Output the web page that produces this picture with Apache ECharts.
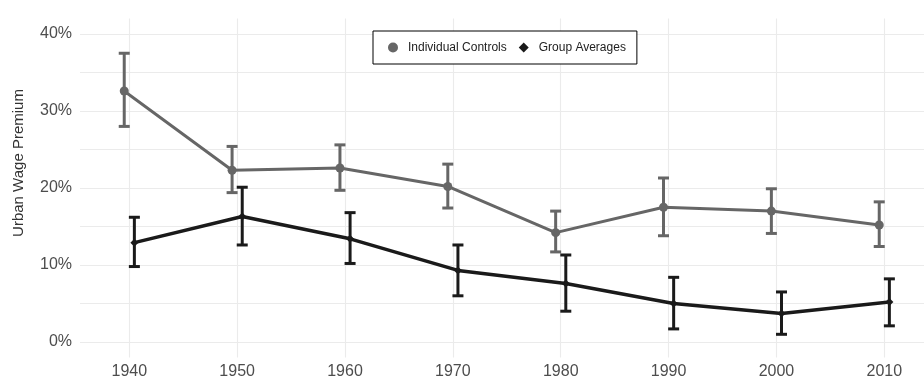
<!DOCTYPE html>
<html>
<head>
<meta charset="utf-8">
<script src="https://cdn.jsdelivr.net/npm/echarts@6/dist/echarts.min.js"></script>
<style>
html,body{margin:0;padding:0;background:#fff;}
#chart{width:924px;height:385px;}
</style>
</head>
<body>
<div id="chart"></div>
<script>
const years = [1940, 1950, 1960, 1970, 1980, 1990, 2000, 2010];
const individualControls = [32.6, 22.3, 22.6, 20.2, 14.2, 17.5, 17.0, 15.2];
const individualLow      = [28.0, 19.4, 19.7, 17.4, 11.7, 13.8, 14.1, 12.4];
const individualHigh     = [37.5, 25.4, 25.6, 23.1, 17.0, 21.3, 19.9, 18.2];
const groupAverages      = [12.9, 16.3, 13.4, 9.3, 7.6, 5.0, 3.7, 5.2];
const groupLow           = [9.8, 12.6, 10.2, 6.0, 4.0, 1.7, 1.0, 2.1];
const groupHigh          = [16.2, 20.1, 16.8, 12.6, 11.3, 8.4, 6.5, 8.2];
const yTickLabels = ['0%', '10%', '20%', '30%', '40%'];
const seriesNames = ['Individual Controls', 'Group Averages'];
const yTitle = 'Urban Wage Premium';

const DODGE = 0.47;
const GRAY = '#666666';
const DARK = '#1a1a1a';
const FONT = 'Liberation Sans, Arial, sans-serif';

function pts(vals, off) { return years.map((y, i) => [y + off, vals[i]]); }
function errs(lo, hi, off) { return years.map((y, i) => [y + off, lo[i], hi[i]]); }
function errRender(color) {
  return function (params, api) {
    const x = api.value(0);
    const a = api.coord([x, api.value(1)]);
    const b = api.coord([x, api.value(2)]);
    const hw = 5.5;
    const st = { stroke: color, lineWidth: 3 };
    return { type: 'group', children: [
      { type: 'line', shape: { x1: a[0], y1: a[1], x2: b[0], y2: b[1] }, style: st },
      { type: 'line', shape: { x1: a[0] - hw, y1: a[1], x2: a[0] + hw, y2: a[1] }, style: st },
      { type: 'line', shape: { x1: b[0] - hw, y1: b[1], x2: b[0] + hw, y2: b[1] }, style: st }
    ]};
  };
}

const chart = echarts.init(document.getElementById('chart'), null, { renderer: 'canvas' });
const gridLine = { show: true, lineStyle: { color: '#ebebeb', width: 1.1 } };

chart.setOption({
  animation: false,
  backgroundColor: '#ffffff',
  textStyle: { fontFamily: FONT },
  grid: [
    { left: 80, right: 0, top: 34, bottom: 43 },
    { left: 129.3, right: 39.7, top: 18.6, bottom: 27.6 },
    { left: 129.3, right: 39.7, top: 34, bottom: 43 }
  ],
  xAxis: [
    { gridIndex: 0, type: 'value', show: false, min: 0, max: 1 },
    { gridIndex: 1, type: 'value', min: 1940, max: 2010, interval: 10,
      axisLine: { show: false }, axisTick: { show: false },
      axisLabel: { color: '#4d4d4d', fontSize: 16, margin: 6, fontFamily: FONT,
        formatter: v => String(v) },
      splitLine: gridLine },
    { gridIndex: 2, type: 'value', show: false, min: 1940, max: 2010 }
  ],
  yAxis: [
    { gridIndex: 0, type: 'value', min: 0, max: 40, interval: 5,
      axisLine: { show: false }, axisTick: { show: false },
      axisLabel: { color: '#4d4d4d', fontSize: 16, margin: 8, fontFamily: FONT,
        formatter: v => (v % 10 === 0 ? yTickLabels[v / 10] : '') },
      splitLine: gridLine },
    { gridIndex: 1, type: 'value', show: false, min: 0, max: 1 },
    { gridIndex: 2, type: 'value', show: false, min: 0, max: 40 }
  ],
  graphic: [
    { type: 'text', x: 19, y: 163, rotation: Math.PI / 2,
      style: { text: yTitle, fill: '#333333', fontSize: 15, fontFamily: FONT,
        textAlign: 'center', textVerticalAlign: 'middle' } }
  ],
  legend: {
    left: 373, top: 31,
    data: [{ name: seriesNames[0], icon: 'circle' }, { name: seriesNames[1], icon: 'diamond' }],
    itemWidth: 10, itemHeight: 10, itemGap: 12,
    padding: [10, 11, 10, 15],
    borderColor: '#000', borderWidth: 1, backgroundColor: '#fff',
    textStyle: { color: '#222', fontSize: 12, lineHeight: 13, fontFamily: FONT, padding: [0, 0, 0, 5] }
  },
  series: [
    { name: seriesNames[0], type: 'line', xAxisIndex: 2, yAxisIndex: 2, clip: false,
      data: pts(individualControls, -DODGE), symbol: 'circle', symbolSize: 9,
      itemStyle: { color: GRAY }, lineStyle: { color: GRAY, width: 3 }, z: 3 },
    { name: 'ic-err', type: 'custom', xAxisIndex: 2, yAxisIndex: 2, clip: false,
      data: errs(individualLow, individualHigh, -DODGE), renderItem: errRender(GRAY), z: 4 },
    { name: seriesNames[1], type: 'line', xAxisIndex: 2, yAxisIndex: 2, clip: false,
      data: pts(groupAverages, DODGE), symbol: 'diamond', symbolSize: 8,
      itemStyle: { color: DARK }, lineStyle: { color: DARK, width: 3.5 }, z: 3 },
    { name: 'ga-err', type: 'custom', xAxisIndex: 2, yAxisIndex: 2, clip: false,
      data: errs(groupLow, groupHigh, DODGE), renderItem: errRender(DARK), z: 4 }
  ]
});
</script>
</body>
</html>
